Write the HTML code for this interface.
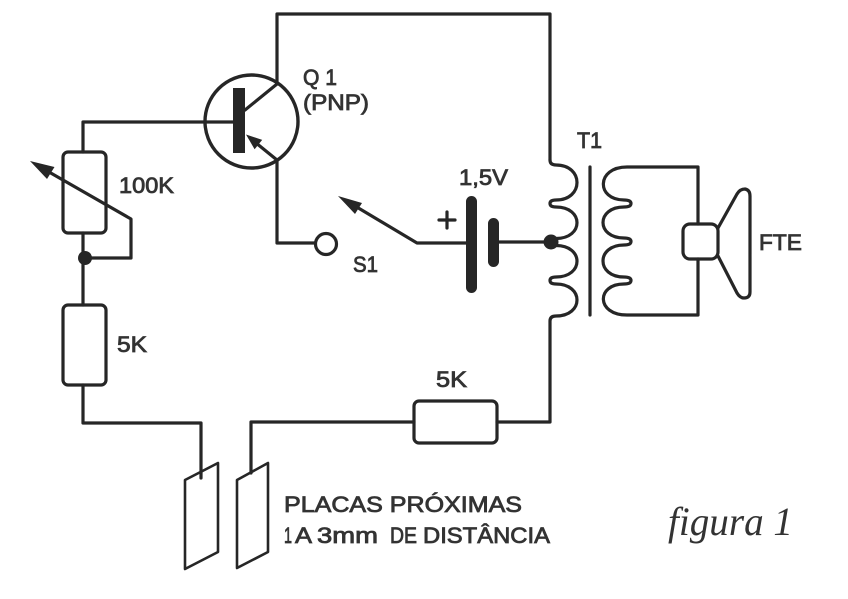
<!DOCTYPE html>
<html>
<head>
<meta charset="utf-8">
<style>
html,body{margin:0;padding:0;background:#fff;}
svg{display:block;}
.t{font-family:"Liberation Sans",sans-serif;font-size:22px;fill:#333;stroke:#333;stroke-width:0.8;}
</style>
</head>
<body>
<svg width="848" height="599" viewBox="0 0 848 599" xmlns="http://www.w3.org/2000/svg">
<rect width="848" height="599" fill="#fff"/>
<g fill="none" stroke="#262626" stroke-width="3.2" stroke-linejoin="round" stroke-linecap="round">
  <!-- top loop -->
  <path d="M277,84 L277,14 L550,14 L550,160"/>
  <!-- primary coil -->
  <path d="M550,160 Q550,165 556,165 C584,165 584,200 556,200 Q550,200 550,203.5 Q550,207 556,207 C584,207 584,238.5 556,238.5 Q550,238.5 550,242 Q550,245.5 556,245.5 C584,245.5 584,277 556,277 Q550,277 550,280.5 Q550,284 556,284 C584,284 584,316 556,316 Q550,316 550,321 L550,422 L497,422"/>
  <!-- core -->
  <line x1="590" y1="167" x2="590" y2="315"/>
  <!-- secondary -->
  <path d="M698,224 L698,167 L627,167 C596,167 596,200 624,200 Q631,200 631,203.5 Q631,207 624,207 C596,207 596,238 624,238 Q631,238 631,241.5 Q631,245 624,245 C596,245 596,277 624,277 Q631,277 631,280.5 Q631,284 624,284 C596,284 596,315 627,315 L698,315 L698,259"/>
  <!-- speaker -->
  <rect x="683" y="224" width="35" height="35" rx="7"/>
  <path d="M718,228 L737,194 Q740,189 745,189 Q750,190 750,196 L750,292 Q750,298 744,298 Q740,298 737,293 L718,256"/>
  <!-- right resistor 5K -->
  <rect x="414" y="401" width="83" height="42" rx="5"/>
  <path d="M414,422 L251,422 L251,473"/>
  <!-- left chain -->
  <path d="M233,122 L83,122 L83,152"/>
  <rect x="63" y="152" width="43" height="81" rx="5"/>
  <path d="M83,233 L83,305"/>
  <rect x="63" y="305" width="43" height="80" rx="5"/>
  <path d="M83,385 L83,423 L201,423 L201,478"/>
  <!-- pot wiper -->
  <path d="M42,168 L131,219 L131,258 L83,258"/>
  <!-- plates -->
  <polygon points="185,480 218,463 218,552 185,569" stroke-width="2.6"/>
  <polygon points="237,480 268,463 268,552 237,568" stroke-width="2.6"/>
  <!-- transistor -->
  <circle cx="251.5" cy="121.5" r="46.5" stroke-width="3.4"/>
  <line x1="245" y1="110" x2="277" y2="84"/>
  <path d="M250,138 L277,160 L277,243 L315,243"/>
  <circle cx="326" cy="244" r="10.5"/>
  <!-- switch -->
  <path d="M350,203 L417,243 L466,243"/>
  <path d="M498,242 L551,242"/>
  <!-- plus -->
  <path d="M439,220 L455,220 M447,212 L447,228"/>
</g>
<g fill="#262626">
  <rect x="233" y="88" width="12" height="65"/>
  <polygon points="246,134.5 262.2,139.9 254.6,149.3"/>
  <polygon points="30,161 54.5,167 47,179"/>
  <polygon points="338,196 362,203 355,214"/>
  <rect x="466" y="196" width="11" height="97" rx="5.5"/>
  <rect x="488" y="218" width="11" height="49" rx="5.5"/>
  <circle cx="85" cy="258" r="7"/>
  <circle cx="551" cy="242" r="7.5"/>
</g>
<g class="t">
  <text x="303" y="85" textLength="34" lengthAdjust="spacingAndGlyphs">Q 1</text>
  <text x="303" y="110" textLength="66" lengthAdjust="spacingAndGlyphs">(PNP)</text>
  <text x="119" y="193" textLength="55" lengthAdjust="spacingAndGlyphs">100K</text>
  <text x="353" y="272" textLength="25" lengthAdjust="spacingAndGlyphs">S1</text>
  <text x="459" y="185" textLength="49" lengthAdjust="spacingAndGlyphs">1,5V</text>
  <text x="577" y="148" textLength="25" lengthAdjust="spacingAndGlyphs">T1</text>
  <text x="759" y="250" textLength="43" lengthAdjust="spacingAndGlyphs">FTE</text>
  <text x="117" y="352" textLength="30" lengthAdjust="spacingAndGlyphs">5K</text>
  <text x="436" y="387" textLength="31" lengthAdjust="spacingAndGlyphs">5K</text>
  <text x="284" y="512" textLength="238" lengthAdjust="spacingAndGlyphs">PLACAS PRÓXIMAS</text>
  <text x="284" y="543" textLength="8" lengthAdjust="spacingAndGlyphs">1</text>
  <text x="295" y="543" textLength="17" lengthAdjust="spacingAndGlyphs">A</text>
  <text x="317" y="543" textLength="61" lengthAdjust="spacingAndGlyphs">3mm</text>
  <text x="390" y="543" textLength="27" lengthAdjust="spacingAndGlyphs">DE</text>
  <text x="423" y="543" textLength="127" lengthAdjust="spacingAndGlyphs">DISTÂNCIA</text>
</g>
<text x="668" y="535" font-family="'Liberation Serif',serif" font-style="italic" font-size="40" fill="#333" textLength="125" lengthAdjust="spacingAndGlyphs">figura 1</text>
</svg>
</body>
</html>
